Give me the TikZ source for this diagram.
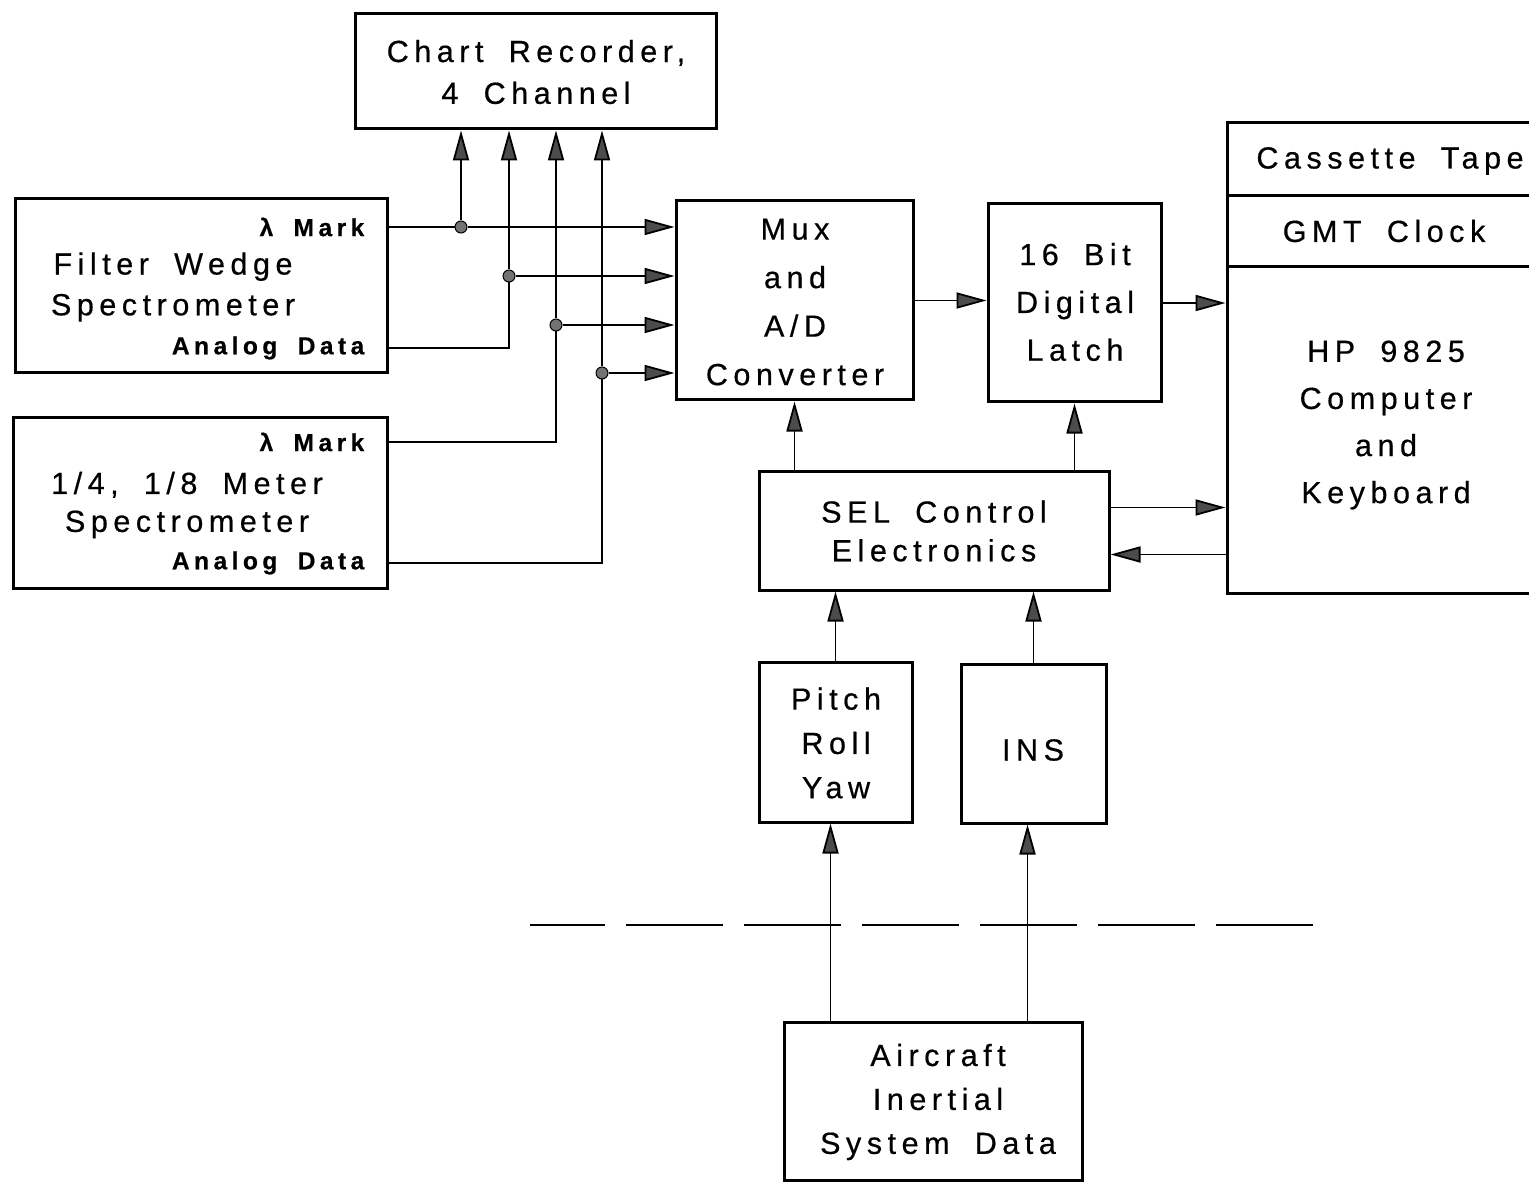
\documentclass[tikz,border=0pt]{standalone}
\usepackage{fontspec}
\setmainfont{Liberation Sans}[LetterSpace=18, WordSpace=1.8, FakeBold=0.5]
\usetikzlibrary{arrows.meta,fit,calc}
\tikzset{
  box/.style={draw, line width=0.3mm, inner sep=0pt},
  txt/.style={align=center, inner sep=0pt, font=\fontsize{8.7}{#1}\selectfont},
  txt/.default=12,
  tag/.style={font=\bfseries\fontsize{7}{8}\selectfont, anchor=east, inner sep=0pt},
  wire/.style={line width=0.18mm},
  arr/.style={wire, -{Triangle[length=3mm,width=1.6mm,fill=black!70]}},
  tap/.style={circle, draw, fill=black!55, line width=0.1mm, inner sep=0pt, minimum size=1.2mm},
  cut/.style={line width=0.25mm, dash pattern=on 9.7mm off 2.1mm, dash phase=2.2mm}}

\begin{document}
\begin{tikzpicture}[x=0.1mm,y=-0.1mm]
\useasboundingbox (0,0) rectangle (1529,1183);
\clip (0,0) rectangle (1529,1183);
% sources
\node[box, fit={(355,14) (716,129)}] (chart) {};
\node[txt=11.9] (chartlbl) at (536,72) {Chart Recorder,\\4 Channel};
\node[box, fit={(15,199) (387,373)}] (fw) {};
\node[txt=11.6] (fwname) at (173,287) {Filter Wedge\\Spectrometer};
\node[tag] (fwmark) at (365,227) {λ Mark};
\node[tag] (fwdata) at (365,348) {Analog Data};
\node[box, fit={(13,417) (387,588)}] (qm) {};
\node[txt=10.8] (qmname) at (187,505) {1/4, 1/8 Meter\\Spectrometer};
\node[tag] (qmmark) at (365,442) {λ Mark};
\node[tag] (qmdata) at (365,563) {Analog Data};
% processing
\node[box, fit={(676,201) (913,400)}] (mux) {};
\node[txt=13.8] (muxlbl) at (795,302) {Mux\\and\\A/D\\Converter};
\node[box, fit={(988,204) (1161,402)}] (latch) {};
\node[txt=13.6] (latchlbl) at (1075,302) {16 Bit\\Digital\\Latch};
\node[box, fit={(1227,123) (1553,196)}] (tape) {};
\node[txt] (tapelbl) at (1390,161) {Cassette Tape};
\node[box, fit={(1227,196) (1553,267)}] (clock) {};
\node[txt] (clocklbl) at (1384,231) {GMT Clock};
\node[box, fit={(1227,267) (1553,593)}] (comp) {};
\node[txt=13.4] (complbl) at (1386,425) {HP 9825\\Computer\\and\\Keyboard};
\node[box, fit={(759,471) (1109,590)}] (sel) {};
\node[txt=11] (sellbl) at (934,531) {SEL Control\\Electronics};
\node[box, fit={(759,662) (912,822)}] (pitch) {};
\node[txt=12.6] (pitchlbl) at (836,743) {Pitch\\Roll\\Yaw};
\node[box, fit={(961,664) (1106,823)}] (ins) {};
\node[txt] (inslbl) at (1033,750) {INS};
\node[box, fit={(784,1022) (1082,1180)}] (air) {};
\node[txt=12.5] (airlbl) at (938,1102) {Aircraft\\Inertial\\System Data};
% taps
\node[tap] (t1) at (461,227) {};
\node[tap] (t2) at (509,276) {};
\node[tap] (t3) at (556,325) {};
\node[tap] (t4) at (602,373) {};
\draw[wire] (fw.east |- t1) -- (t1);
\draw[arr] (t1) -- (t1 -| mux.west);
\draw[arr] (t1) -- (t1 |- chart.south);
\draw[wire] (fw.east |- fwdata) -- (fwdata -| t2) -- (t2);
\draw[arr] (t2) -- (t2 -| mux.west);
\draw[arr] (t2) -- (t2 |- chart.south);
\draw[wire] (qm.east |- qmmark) -- (qmmark -| t3) -- (t3);
\draw[arr] (t3) -- (t3 -| mux.west);
\draw[arr] (t3) -- (t3 |- chart.south);
\draw[wire] (qm.east |- qmdata) -- (qmdata -| t4) -- (t4);
\draw[arr] (t4) -- (t4 -| mux.west);
\draw[arr] (t4) -- (t4 |- chart.south);
% data path
\draw[arr] (mux.east) -- (mux.east -| latch.west);
\draw[arr] (latch.east) -- (latch.east -| comp.west);
\draw[arr] (sel.north -| mux) -- (mux.south);
\draw[arr] (sel.north -| latch) -- (latch.south);
\draw[arr] ($(sel.east)+(0,-23)$) -- ($(sel.east -| comp.west)+(0,-23)$);
\draw[arr] ($(sel.east -| comp.west)+(0,24)$) -- ($(sel.east)+(0,24)$);
\draw[arr] (pitch.north) -- (pitch.north |- sel.south);
\draw[arr] (ins.north) -- (ins.north |- sel.south);
\draw[arr] ($(pitch.south |- air.north)+(-5,0)$) -- ($(pitch.south)+(-5,0)$);
\draw[arr] ($(ins.south |- air.north)+(-6,0)$) -- ($(ins.south)+(-6,0)$);
% aircraft boundary
\coordinate (cutl) at (530,925);
\coordinate (cutr) at (1322,925);
\draw[cut] (cutl) -- (cutr);
\end{tikzpicture}
\end{document}
